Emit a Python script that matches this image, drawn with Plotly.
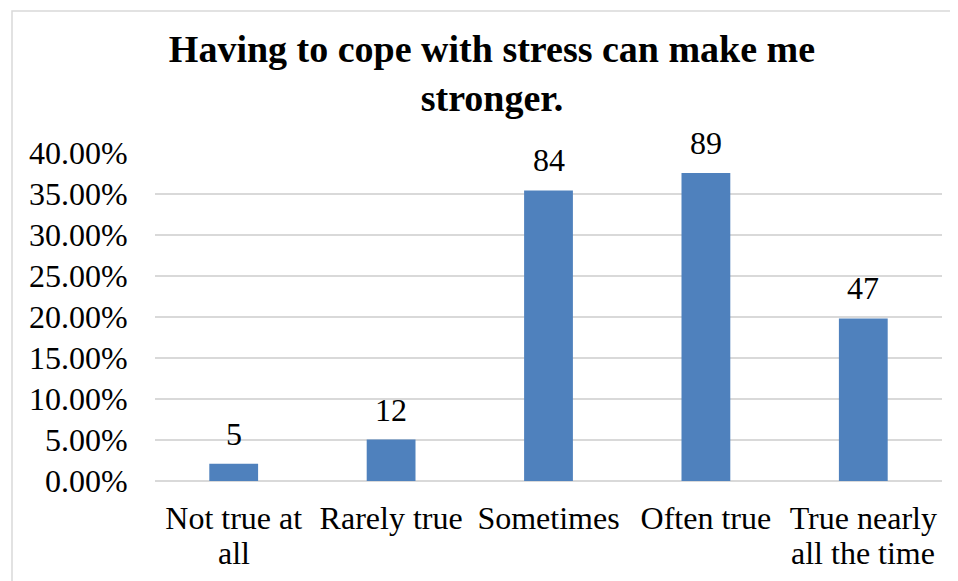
import plotly.graph_objects as go

categories = ["Not true at all", "Rarely true", "Sometimes", "Often true", "True nearly all the time"]
line1 = ["Not true at", "Rarely true", "Sometimes", "Often true", "True nearly"]
line2 = ["all", "", "", "", "all the time"]
counts = [5, 12, 84, 89, 47]
percent = [0.0211, 0.0506, 0.3544, 0.3755, 0.1983]
ytick_vals = [0, 0.05, 0.10, 0.15, 0.20, 0.25, 0.30, 0.35, 0.40]
ytick_text = ["0.00%", "5.00%", "10.00%", "15.00%", "20.00%", "25.00%", "30.00%", "35.00%", "40.00%"]
title_text = "Having to cope with stress can make me<br>stronger."

FONT = "Liberation Serif, Times New Roman, serif"
W, H = 950, 573
L, R, T, B = 147, 16, 145, 100

fig = go.Figure()
fig.add_trace(go.Bar(
    x=categories, y=percent,
    marker=dict(color="#4F81BD", line=dict(width=0)),
    cliponaxis=False,
))

for cat, c, p in zip(categories, counts, percent):
    fig.add_annotation(x=cat, y=p, xref="x", yref="y", text=str(c), showarrow=False,
                       yanchor="bottom", yshift=10,
                       font=dict(family=FONT, size=32, color="#000000"))

for cat, t in zip(categories, line2):
    if t:
        fig.add_annotation(x=cat, y=0, xref="x", yref="y", text=t, showarrow=False,
                           yshift=-72, font=dict(family=FONT, size=32, color="#000000"))

pw, ph = W - L - R, H - T - B
fig.update_layout(
    width=W, height=H,
    margin=dict(l=L, r=R, t=T, b=B),
    paper_bgcolor="white", plot_bgcolor="white",
    bargap=0.69,
    showlegend=False,
    title=dict(text=title_text, x=484 / W, xanchor="center", xref="container",
               y=1 - 54 / H, yanchor="top", yref="container",
               font=dict(family=FONT, size=38, color="#000000", weight="bold")),
    shapes=[dict(type="rect", xref="paper", yref="paper",
                 x0=-(L - 4) / pw, x1=1.2, y0=-0.5, y1=1 + (T - 3) / ph,
                 line=dict(color="#D9D9D9", width=1.5), fillcolor="rgba(0,0,0,0)", layer="below")],
)
fig.update_xaxes(
    type="category", tickvals=categories, ticktext=line1,
    tickfont=dict(family=FONT, size=32, color="#000000"),
    showgrid=False, showline=False, zeroline=False,
    ticks="outside", ticklen=9, tickcolor="rgba(0,0,0,0)",
)
fig.update_yaxes(
    range=[0, 0.40], tickvals=ytick_vals, ticktext=ytick_text,
    tickfont=dict(family=FONT, size=32, color="#000000"),
    showgrid=True, gridcolor="#D9D9D9", gridwidth=1.5,
    zeroline=True, zerolinecolor="#D9D9D9", zerolinewidth=1.5,
    showline=False, ticks="outside", ticklen=20, tickcolor="rgba(0,0,0,0)",
)

fig.write_html("out.html")
